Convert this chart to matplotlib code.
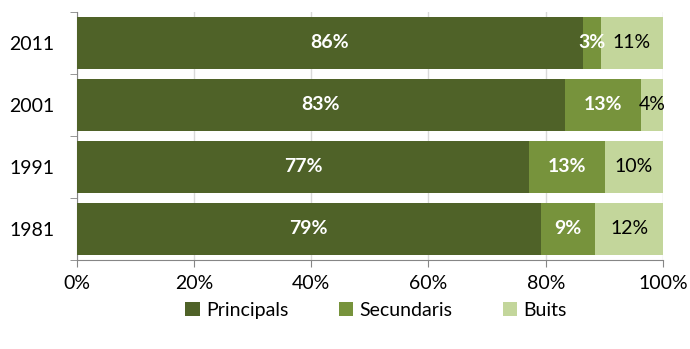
import numpy as np
import matplotlib.pyplot as plt

plt.rcParams['font.family'] = ['Lato', 'DejaVu Sans']

# data (shares of dwellings, %)
years = ['1981', '1991', '2001', '2011']
principals = [79.2, 77.2, 83.3, 86.4]
secundaris = [9.2, 12.9, 12.9, 3.0]
buits = [11.6, 9.9, 3.8, 10.6]
lab_princ = ['79%', '77%', '83%', '86%']
lab_sec = ['9%', '13%', '13%', '3%']
lab_buits = ['12%', '10%', '4%', '11%']

colors = ['#4F6228', '#77933C', '#C3D69B']
fs = 14

fig = plt.figure(figsize=(6.9, 3.49), dpi=100)
ax = fig.add_axes([0.111, 0.255, 0.850, 0.711])

y = np.arange(len(years))
h = 0.83
b1 = ax.barh(y, principals, height=h, color=colors[0], label='Principals', zorder=3)
left2 = np.array(principals)
b2 = ax.barh(y, secundaris, left=left2, height=h, color=colors[1], label='Secundaris', zorder=3)
left3 = left2 + np.array(secundaris)
b3 = ax.barh(y, buits, left=left3, height=h, color=colors[2], label='Buits', zorder=3)

ax.bar_label(b1, labels=lab_princ, label_type='center', color='white', fontweight='bold', fontsize=fs)
ax.bar_label(b2, labels=lab_sec, label_type='center', color='white', fontweight='bold', fontsize=fs)
ax.bar_label(b3, labels=lab_buits, label_type='center', color='black', fontsize=fs)

ax.set_xlim(0, 100)
ax.set_ylim(-0.5, len(years) - 0.5)
ax.set_xticks(np.arange(0, 101, 20))
ax.set_xticklabels([f'{v}%' for v in range(0, 101, 20)], fontsize=fs)
ax.set_yticks(y)
ax.set_yticklabels(years, fontsize=fs)
ax.set_yticks(np.arange(-0.5, len(years), 1), minor=True)
ax.tick_params(axis='y', which='major', length=0, pad=16)
ax.tick_params(axis='y', which='minor', length=5, color='#868686')
ax.tick_params(axis='x', length=5, color='#868686', pad=6)

ax.grid(axis='x', color='#D9D9D9', linewidth=1, zorder=0)
for s in ['top', 'right']:
    ax.spines[s].set_visible(False)
for s in ['left', 'bottom']:
    ax.spines[s].set_color('#868686')

fig.legend(handles=[b1, b2, b3], loc='center', bbox_to_anchor=(0.545, 0.11), ncol=3,
           frameon=False, fontsize=fs, handlelength=0.75, handleheight=0.75,
           handletextpad=0.3, columnspacing=2.6)

fig.savefig('out.png', dpi=100)
